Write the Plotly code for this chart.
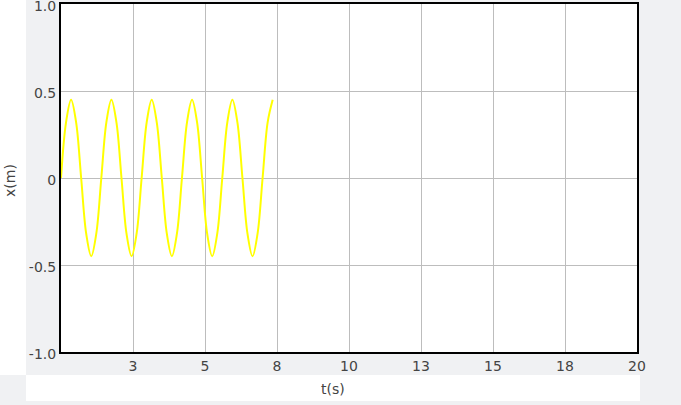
import plotly.graph_objects as go

# Data (samples every 1/8 period, period ~1.4 s, amplitude ~0.45)
t_values = [0.0, 0.175, 0.35, 0.525, 0.7, 0.875, 1.05, 1.225,
            1.4, 1.575, 1.75, 1.925, 2.1, 2.275, 2.45, 2.625,
            2.8, 2.975, 3.15, 3.325, 3.5, 3.675, 3.85, 4.025,
            4.2, 4.375, 4.55, 4.725, 4.9, 5.075, 5.25, 5.425,
            5.6, 5.775, 5.95, 6.125, 6.3, 6.475, 6.65, 6.825,
            7.0, 7.175, 7.35]
x_values = [0.0, 0.32, 0.45, 0.32, 0.0, -0.32, -0.45, -0.32,
            0.0, 0.32, 0.45, 0.32, 0.0, -0.32, -0.45, -0.32,
            0.0, 0.32, 0.45, 0.32, 0.0, -0.32, -0.45, -0.32,
            0.0, 0.32, 0.45, 0.32, 0.0, -0.32, -0.45, -0.32,
            0.0, 0.32, 0.45, 0.32, 0.0, -0.32, -0.45, -0.32,
            0.0, 0.32, 0.45]

x_tickvals = [2.5, 5, 7.5, 10, 12.5, 15, 17.5, 20]
x_ticktext = ["3", "5", "8", "10", "13", "15", "18", "20"]
y_tickvals = [-1, -0.5, 0, 0.5, 1]
y_ticktext = ["-1.0", "-0.5", "0", "0.5", "1.0"]

W, H = 681, 405
L, R, T, B = 61, 637, 4, 352
GRAY = "#f0f1f3"

def px(x):
    return (x - L) / (R - L)

def py(y):
    return (B - y) / (B - T)

fig = go.Figure()
fig.add_trace(go.Scatter(x=t_values, y=x_values, mode="lines",
                         line=dict(color="#ffff00", width=2, shape="spline", smoothing=1.0),
                         hoverinfo="skip", showlegend=False))

font = dict(family="DejaVu Sans, Verdana, sans-serif", size=14, color="#444")

fig.update_layout(
    width=W, height=H,
    margin=dict(l=L, r=W - R, t=T, b=H - B, pad=0, autoexpand=False),
    paper_bgcolor=GRAY, plot_bgcolor="white",
    font=font,
    showlegend=False,
    hovermode=False,
    xaxis=dict(range=[0, 20], tickvals=x_tickvals, ticktext=x_ticktext,
               showgrid=True, gridcolor="#bdbdbd", gridwidth=1, zeroline=False,
               showline=True, linecolor="black", linewidth=2, mirror=True,
               ticks="", tickfont=font, fixedrange=True, automargin=False,
               ticklabeloverflow="allow"),
    yaxis=dict(range=[-1, 1], tickvals=y_tickvals, ticktext=y_ticktext,
               showgrid=True, gridcolor="#bdbdbd", gridwidth=1, zeroline=False,
               showline=True, linecolor="black", linewidth=2, mirror=True,
               ticks="", tickfont=font, fixedrange=True, automargin=False,
               ticklabeloverflow="allow", ticklabelshift=2),
    shapes=[
        dict(type="rect", xref="paper", yref="paper", layer="below",
             x0=px(0), x1=px(26), y0=py(375), y1=py(0),
             fillcolor="white", line=dict(width=0)),
        dict(type="rect", xref="paper", yref="paper", layer="below",
             x0=px(26), x1=px(640), y0=py(401), y1=py(375),
             fillcolor="white", line=dict(width=0)),
    ],
    annotations=[
        dict(text="t(s)", xref="paper", yref="paper", x=px(333), y=py(389),
             showarrow=False, font=font, xanchor="center", yanchor="middle"),
        dict(text="x(m)", xref="paper", yref="paper", x=px(10), y=py(181),
             showarrow=False, font=font, textangle=-90,
             xanchor="center", yanchor="middle"),
    ],
)

fig.write_html("out.html", config={"displayModeBar": False},
               post_script="document.body.style.margin='0px';document.body.style.overflow='hidden';")
